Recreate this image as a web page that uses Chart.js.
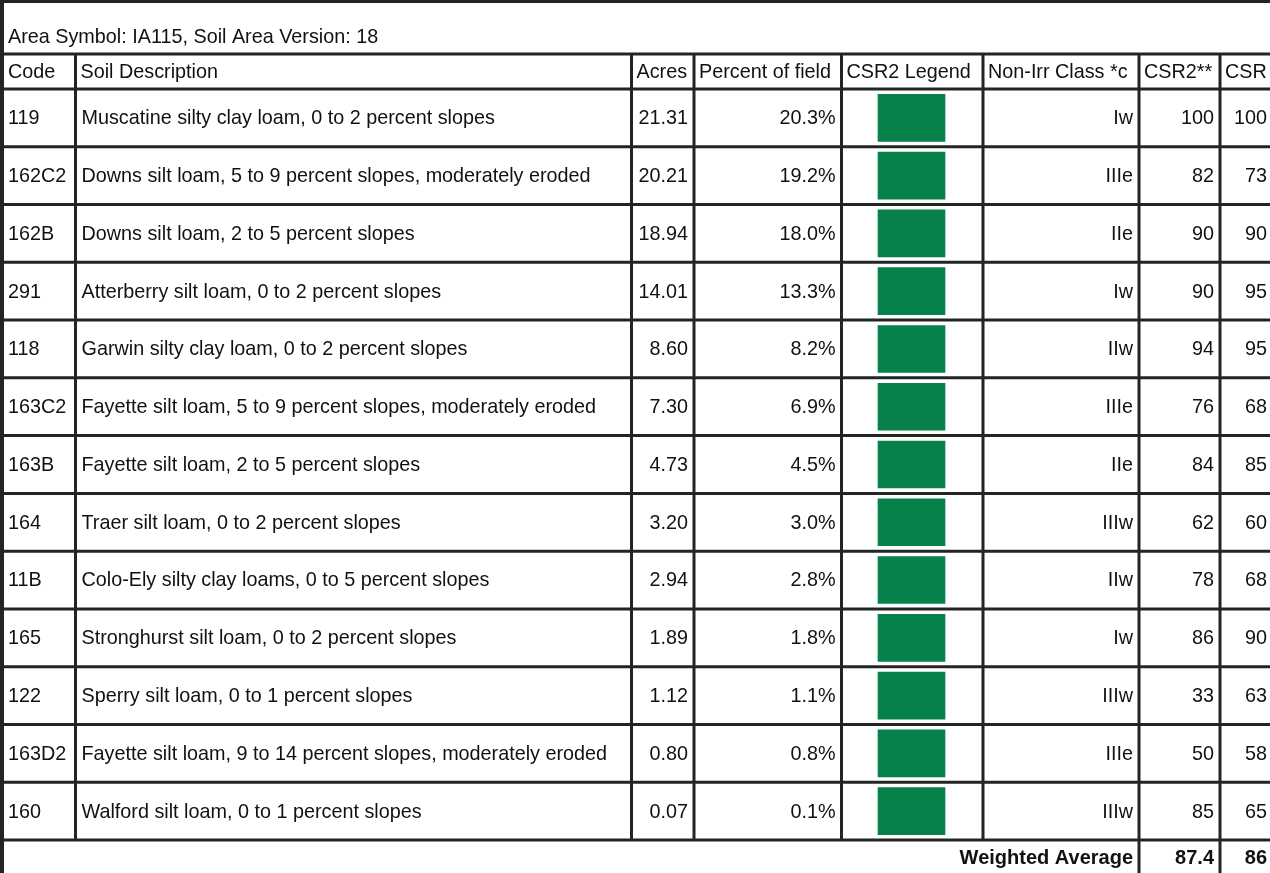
<!DOCTYPE html>
<html>
<head>
<meta charset="utf-8">
<script src="https://cdn.jsdelivr.net/npm/chart.js@4.4.1/dist/chart.umd.min.js"></script>
<style>
  html, body { margin: 0; padding: 0; background: #fff; }
  #soilChart { display: block; }
</style>
</head>
<body>
<canvas id="soilChart" width="1270" height="873"></canvas>
<script>
// --- Dados da tabela de solos ---
const areaTitle = 'Area Symbol: IA115, Soil Area Version: 18';
const headers = ['Code', 'Soil Description', 'Acres', 'Percent of field', 'CSR2 Legend', 'Non-Irr Class *c', 'CSR2**', 'CSR'];
const codes = ['119', '162C2', '162B', '291', '118', '163C2', '163B', '164', '11B', '165', '122', '163D2', '160'];
const descriptions = [
    'Muscatine silty clay loam, 0 to 2 percent slopes',
    'Downs silt loam, 5 to 9 percent slopes, moderately eroded',
    'Downs silt loam, 2 to 5 percent slopes',
    'Atterberry silt loam, 0 to 2 percent slopes',
    'Garwin silty clay loam, 0 to 2 percent slopes',
    'Fayette silt loam, 5 to 9 percent slopes, moderately eroded',
    'Fayette silt loam, 2 to 5 percent slopes',
    'Traer silt loam, 0 to 2 percent slopes',
    'Colo-Ely silty clay loams, 0 to 5 percent slopes',
    'Stronghurst silt loam, 0 to 2 percent slopes',
    'Sperry silt loam, 0 to 1 percent slopes',
    'Fayette silt loam, 9 to 14 percent slopes, moderately eroded',
    'Walford silt loam, 0 to 1 percent slopes'
];
const acres = [21.31, 20.21, 18.94, 14.01, 8.60, 7.30, 4.73, 3.20, 2.94, 1.89, 1.12, 0.80, 0.07];
const percentOfField = [20.3, 19.2, 18.0, 13.3, 8.2, 6.9, 4.5, 3.0, 2.8, 1.8, 1.1, 0.8, 0.1];
const legendColors = ['#07814a', '#07814a', '#07814a', '#07814a', '#07814a', '#07814a', '#07814a',
                      '#07814a', '#07814a', '#07814a', '#07814a', '#07814a', '#07814a'];
const nonIrrClass = ['Iw', 'IIIe', 'IIe', 'Iw', 'IIw', 'IIIe', 'IIe', 'IIIw', 'IIw', 'Iw', 'IIIw', 'IIIe', 'IIIw'];
const csr2 = [100, 82, 90, 90, 94, 76, 84, 62, 78, 86, 33, 50, 85];
const csr = [100, 73, 90, 95, 95, 68, 85, 60, 68, 90, 63, 58, 65];
const weightedLabel = 'Weighted Average';
const weightedCsr2 = 87.4;
const weightedCsr = 86;

// --- Layout (px) ---
const W = 1270, H = 873;
const colEdges = [0, 75.5, 631.5, 694, 841.5, 983, 1139, 1220, W]; // divisórias das colunas
const swatchSpan = [878, 945];   // quadrado verde dentro da coluna "CSR2 Legend"
const headerTop = 54, bodyTop = 89, bodyBottom = 840;
const lineColor = '#222524';
const textColor = '#111111';
const fontFamily = '"Liberation Sans", Arial, sans-serif';

// Plugin que desenha as linhas da tabela e os textos
const tablePlugin = {
    id: 'soilTable',
    afterDraw(chart) {
        const ctx = chart.ctx;
        const yS = chart.scales.y;
        const band = (yS.bottom - yS.top) / codes.length;

        ctx.save();
        ctx.fillStyle = textColor;
        ctx.textBaseline = 'middle';

        const txt = (s, x, y, align, bold) => {
            ctx.font = (bold ? 'bold ' : '') + (bold ? '20px ' : '19.8px ') + fontFamily;
            ctx.textAlign = align;
            ctx.fillText(s, x, y);
        };

        // título
        txt(areaTitle, 8, 38, 'left');

        // cabeçalho
        const headY = (headerTop + bodyTop) / 2 + 1;
        headers.forEach((h, i) => txt(h, i === 0 ? 8 : colEdges[i] + 5, headY, 'left'));

        // linhas do corpo
        codes.forEach((code, i) => {
            const cy = yS.getPixelForValue(i) + 1;
            txt(code, 8, cy, 'left');
            txt(descriptions[i], colEdges[1] + 6, cy, 'left');
            txt(acres[i].toFixed(2), colEdges[3] - 6, cy, 'right');
            txt(percentOfField[i].toFixed(1) + '%', colEdges[4] - 6, cy, 'right');
            txt(nonIrrClass[i], colEdges[6] - 6, cy, 'right');
            txt(String(csr2[i]), colEdges[7] - 6, cy, 'right');
            txt(String(csr[i]), W - 3, cy, 'right');
        });

        // média ponderada
        const wy = (bodyBottom + H) / 2 + 2;
        txt(weightedLabel, colEdges[6] - 6, wy, 'right', true);
        txt(weightedCsr2.toFixed(1), colEdges[7] - 6, wy, 'right', true);
        txt(String(weightedCsr), W - 3, wy, 'right', true);

        // --- linhas ---
        ctx.strokeStyle = lineColor;
        ctx.lineWidth = 3;
        const hLine = (y, x0, x1) => { ctx.beginPath(); ctx.moveTo(x0, y); ctx.lineTo(x1, y); ctx.stroke(); };
        const vLine = (x, y0, y1) => { ctx.beginPath(); ctx.moveTo(x, y0); ctx.lineTo(x, y1); ctx.stroke(); };

        hLine(1.5, 0, W);
        hLine(headerTop, 0, W);
        hLine(bodyTop, 0, W);
        for (let i = 0; i < codes.length; i++) {
            hLine(yS.getPixelForValue(i) + band / 2, 0, W);
        }

        ctx.lineWidth = 4;
        vLine(2, 0, H);
        ctx.lineWidth = 3;
        for (let c = 1; c < colEdges.length - 1; c++) {
            const bottom = (c >= 6) ? H : bodyBottom;
            vLine(colEdges[c], headerTop, bottom);
        }
        ctx.restore();
    }
};

new Chart(document.getElementById('soilChart').getContext('2d'), {
    type: 'bar',
    data: {
        labels: codes,
        datasets: [{
            label: 'CSR2 Legend',
            data: codes.map(() => swatchSpan),
            backgroundColor: legendColors,
            borderWidth: 0,
            barThickness: 47
        }]
    },
    options: {
        indexAxis: 'y',
        responsive: false,
        animation: false,
        layout: { padding: { top: bodyTop, bottom: H - bodyBottom, left: 0, right: 0 } },
        scales: {
            x: { type: 'linear', min: 0, max: W, display: false },
            y: { display: false }
        },
        plugins: {
            legend: { display: false },
            tooltip: { enabled: false }
        }
    },
    plugins: [tablePlugin]
});
</script>
</body>
</html>
